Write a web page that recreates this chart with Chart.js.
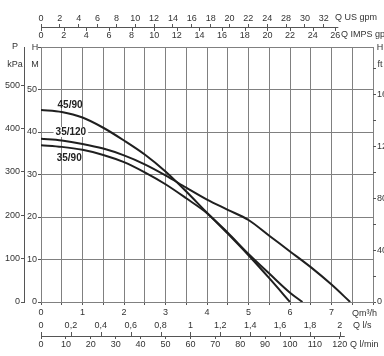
<!DOCTYPE html>
<html><head><meta charset="utf-8">
<script src="https://cdn.jsdelivr.net/npm/chart.js@4.4.0/dist/chart.umd.min.js"></script>
<style>html,body{margin:0;padding:0;background:#fff;overflow:hidden}#wrap{width:384px;height:356px;position:relative}</style>
</head><body><div id="wrap"><canvas id="c" width="384" height="356"></canvas></div>
<script>
// ---- data (H in m vs Q in m3/h) ----
const flow4590 = [0,0.5,1,1.5,2,2.5,3,3.5,4,4.5,5,5.5,6];
const head4590 = [45.2,44.7,43.4,41.0,38.0,34.7,30.7,26.0,21.0,16.1,11.0,5.6,0];
const flow35120 = [0,0.5,1,1.5,2,2.5,3,3.5,4,4.5,5,5.5,6,6.5,7,7.45];
const head35120 = [38.4,38.0,37.2,36.1,34.5,32.4,29.8,26.9,24.1,21.7,19.3,15.6,11.9,8.2,4.1,0];
const flow3590 = [0,0.5,1,1.5,2,2.5,3,3.5,4,4.5,5,5.5,6,6.3];
const head3590 = [36.9,36.5,35.8,34.6,32.9,30.5,27.7,24.4,20.9,16.3,11.3,6.7,2.2,0];
const seriesNames = ['45/90','35/120','35/90'];

// ---- tick labels ----
const qM3hLabels = ['0','1','2','3','4','5','6','7'];
const usGpmTicks = [0,2,4,6,8,10,12,14,16,18,20,22,24,26,28,30];
const usGpmLabels = ['0','2','4','6','8','10','12','14','16','18','20','22','24','28','30','32'];
const impGpmTicks = [0,2,4,6,8,10,12,14,16,18,20,22,24,26];
const lsTicks = [0,0.2,0.4,0.6,0.8,1,1.2,1.4,1.6,1.8,2];
const lsLabels = ['0','0,2','0,4','0,6','0,8','1','1,2','1,4','1,6','1,8','2'];
const lminTicks = [0,10,20,30,40,50,60,70,80,90,100,110,120];
const kpaTicks = [0,100,200,300,400,500];
const hTicks = [0,10,20,30,40,50,60];
const ftTicks = [0,20,40,60,80,100,120,140,160,180];

// unit conversions
const M3H_PER_USGPM = 0.227125, M3H_PER_IMPGPM = 0.272765, M3H_PER_LS = 3.6, M3H_PER_LMIN = 0.06;
const KPA_PER_M = 9.80665, FT_PER_M = 3.28084;
const QMAX = 8, HMAX = 60;

const FAM = "'Liberation Sans',Arial,sans-serif";
const TXT = '#333';
const GRID = '#808080';
const AX = '#555';
const tf = {family: FAM, size: 9};

function pts(xs, ys){ return xs.map((x,i)=>({x:x, y:ys[i]})); }
function setTicks(vals){ return s => { s.ticks = vals.map(v=>({value:v})); }; }

const extras = {
  id:'extras',
  afterDraw(chart){
    const ctx = chart.ctx, sc = chart.scales;
    const x = sc.x, y = sc.y;
    ctx.save();
    ctx.strokeStyle = AX; ctx.lineWidth = 1;
    // top axis line (US / IMPS)
    const yt = sc.us.bottom;
    ctx.beginPath(); ctx.moveTo(x.left, yt+0.5); ctx.lineTo(sc.imp.getPixelForValue(26)+3, yt+0.5); ctx.stroke();
    impGpmTicks.forEach(v=>{ const px = Math.round(sc.imp.getPixelForValue(v))+0.5; ctx.beginPath(); ctx.moveTo(px, yt); ctx.lineTo(px, yt+4); ctx.stroke(); });
    // bottom axis line (l/s / l/min)
    const yb = sc.lmin.top;
    ctx.beginPath(); ctx.moveTo(x.left, yb+0.5); ctx.lineTo(sc.ls.getPixelForValue(2)+5, yb+0.5); ctx.stroke();
    lsTicks.forEach(v=>{ const px = Math.round(sc.ls.getPixelForValue(v))+0.5; ctx.beginPath(); ctx.moveTo(px, yb-4); ctx.lineTo(px, yb); ctx.stroke(); });
    // unit labels
    ctx.fillStyle = TXT; ctx.font = '9px ' + FAM; ctx.textBaseline = 'middle';
    ctx.textAlign = 'left';
    ctx.fillText('Q US gpm', 335, 18);
    ctx.fillText('Q IMPS gpm', 341, 35);
    ctx.fillText('Qm³/h', 352, 314);
    ctx.fillText('Q l/s', 353, 326);
    ctx.fillText('Q l/min', 350, 345);
    ctx.textAlign = 'center';
    ctx.fillText('P', 15, 47);
    ctx.fillText('kPa', 15, 65);
    ctx.fillText('H', 35, 48);
    ctx.fillText('M', 35, 65);
    ctx.fillText('H', 380, 48);
    ctx.fillText('ft', 380, 65);
    // curve labels
    ctx.font = 'bold 10px ' + FAM;
    const lab = [[seriesNames[0], 0.70, 46.4, false],[seriesNames[1], 0.72, 40, true],[seriesNames[2], 0.68, 33.8, false]];
    lab.forEach(([t,qx,hy,bg])=>{
      const px = x.getPixelForValue(qx), py = y.getPixelForValue(hy);
      if(bg){ const w = ctx.measureText(t).width; ctx.fillStyle='#fff'; ctx.fillRect(px-w/2-2, py-5, w+4, 10); }
      ctx.fillStyle = '#222'; ctx.fillText(t, px, py);
    });
    ctx.restore();
  }
};

const curveStyle = {borderColor:'#1f1f1f', borderWidth:2, pointRadius:0, fill:false, cubicInterpolationMode:'monotone', xAxisID:'x', yAxisID:'y'};

new Chart(document.getElementById('c'), {
  type:'line',
  data:{datasets:[
    Object.assign({label:seriesNames[0], data:pts(flow4590, head4590)}, curveStyle),
    Object.assign({label:seriesNames[1], data:pts(flow35120, head35120)}, curveStyle),
    Object.assign({label:seriesNames[2], data:pts(flow3590, head3590)}, curveStyle)
  ]},
  options:{
    responsive:false, animation:false, devicePixelRatio:1,
    layout:{padding:0},
    plugins:{legend:{display:false}, tooltip:{enabled:false}},
    scales:{
      x:{type:'linear', position:'bottom', weight:0, min:0, max:QMAX,
        afterBuildTicks:setTicks([0,0.5,1,1.5,2,2.5,3,3.5,4,4.5,5,5.5,6,6.5,7,7.5,8]),
        ticks:{autoSkip:false, maxRotation:0, padding:2, color:TXT, font:tf,
          callback:(v)=> (Number.isInteger(v) && v<8) ? qM3hLabels[v] : ''},
        grid:{color:GRID, lineWidth:1, tickLength:3, tickColor:AX},
        border:{display:true, color:GRID},
        afterFit:s=>{s.height=18;}},
      ls:{type:'linear', position:'bottom', weight:1, min:0, max:QMAX/M3H_PER_LS,
        afterBuildTicks:setTicks(lsTicks),
        ticks:{autoSkip:false, maxRotation:0, padding:0, color:TXT, font:tf, callback:(v,i)=>lsLabels[i]},
        grid:{drawOnChartArea:false, drawTicks:false}, border:{display:false},
        afterFit:s=>{s.height=16;}},
      lmin:{type:'linear', position:'bottom', weight:2, min:0, max:QMAX/M3H_PER_LMIN,
        afterBuildTicks:setTicks(lminTicks),
        ticks:{autoSkip:false, maxRotation:0, padding:0, color:TXT, font:tf, callback:(v)=>String(v)},
        grid:{drawOnChartArea:false, tickLength:3, color:AX}, border:{display:false},
        afterFit:s=>{s.height=20;}},
      imp:{type:'linear', position:'top', weight:1, min:0, max:QMAX/M3H_PER_IMPGPM,
        afterBuildTicks:setTicks(impGpmTicks),
        ticks:{autoSkip:false, maxRotation:0, padding:6, color:TXT, font:tf, callback:(v)=>String(v)},
        grid:{drawOnChartArea:false, drawTicks:false}, border:{display:false},
        afterFit:s=>{s.height=20;}},
      us:{type:'linear', position:'top', weight:2, min:0, max:QMAX/M3H_PER_USGPM,
        afterBuildTicks:setTicks(usGpmTicks),
        ticks:{autoSkip:false, maxRotation:0, padding:0, color:TXT, font:tf, callback:(v,i)=>usGpmLabels[i]},
        grid:{drawOnChartArea:false, tickLength:3, color:AX}, border:{display:false},
        afterFit:s=>{s.height=27;}},
      y:{type:'linear', position:'left', weight:0, min:0, max:HMAX,
        afterBuildTicks:setTicks(hTicks),
        ticks:{autoSkip:false, padding:1, color:TXT, font:tf, callback:(v)=> v<60 ? String(v) : ''},
        grid:{color:GRID, lineWidth:1, tickLength:3, tickColor:AX},
        border:{display:true, color:GRID},
        afterFit:s=>{s.width=17;}},
      kpa:{type:'linear', position:'left', weight:1, min:0, max:HMAX*KPA_PER_M,
        afterBuildTicks:setTicks(kpaTicks),
        ticks:{autoSkip:false, padding:1, color:TXT, font:tf, callback:(v)=>String(v)},
        grid:{drawOnChartArea:false, tickLength:3, color:AX},
        border:{display:true, color:AX},
        afterFit:s=>{s.width=24;}},
      ft:{type:'linear', position:'right', weight:0, min:0, max:HMAX*FT_PER_M,
        afterBuildTicks:setTicks(ftTicks),
        ticks:{autoSkip:false, padding:1, color:TXT, font:tf, callback:(v)=> (v%40===0 && v<=160) ? String(v) : ''},
        grid:{drawOnChartArea:false, tickLength:3, color:AX},
        border:{display:false},
        afterFit:s=>{s.width=11;}}
    }
  },
  plugins:[extras]
});
</script></body></html>
